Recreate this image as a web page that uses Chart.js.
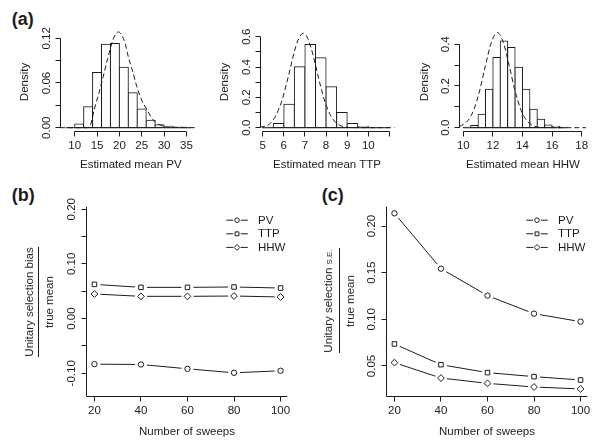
<!DOCTYPE html>
<html>
<head>
<meta charset="UTF-8">
<title>Unitary selection</title>
<script src="https://cdn.jsdelivr.net/npm/chart.js"></script>
<style>
body {
    margin: 0;
    width: 600px;
    height: 444px;
    position: relative;
    overflow: hidden;
    background: #fff;
    color: #1c1c1c;
    font-family: "Liberation Sans", Arial, sans-serif;
}
canvas { position: absolute; }
.panel { position: absolute; font-size: 18px; line-height: 18px; font-weight: bold; }
.lbl { position: absolute; font-size: 11.5px; line-height: 14px; white-space: nowrap; transform: translateX(-50%); }
.vert {
    position: absolute;
    font-size: 11.5px;
    line-height: 14px;
    white-space: nowrap;
    text-align: center;
    transform: translate(-50%, -50%) rotate(-90deg);
}
.frac .bar { border-top: 1px solid #1c1c1c; height: 0; margin: 2px auto 0 auto; }
.frac .den { margin-top: 3px; }
.small { font-size: 8px; }
</style>
</head>
<body>

<div class="panel" style="left:11.7px;top:10.3px">(a)</div>
<div class="panel" style="left:11.7px;top:186px">(b)</div>
<div class="panel" style="left:321.7px;top:186px">(c)</div>

<canvas id="hPV" width="200" height="180" style="left:0;top:0"></canvas>
<canvas id="hTTP" width="200" height="180" style="left:200px;top:0"></canvas>
<canvas id="hHHW" width="200" height="180" style="left:400px;top:0"></canvas>
<canvas id="bias" width="300" height="264" style="left:0;top:180px"></canvas>
<canvas id="se" width="300" height="264" style="left:300px;top:180px"></canvas>

<div class="vert" style="left:23.6px;top:81.7px">Density</div>
<div class="vert" style="left:223.6px;top:81.7px">Density</div>
<div class="vert" style="left:423.6px;top:81.7px">Density</div>
<div class="lbl" style="left:130.8px;top:157px">Estimated mean PV</div>
<div class="lbl" style="left:327px;top:157px">Estimated mean TTP</div>
<div class="lbl" style="left:523px;top:157px">Estimated mean HHW</div>

<div class="vert frac" style="left:39px;top:301.7px;width:116px">
    <div>Unitary selection bias</div>
    <div class="bar" style="width:110px"></div>
    <div class="den">true mean</div>
</div>
<div class="vert frac" style="left:338.7px;top:301px;width:110px">
    <div>Unitary selection <span class="small">S.E.</span></div>
    <div class="bar" style="width:105px"></div>
    <div class="den">true mean</div>
</div>
<div class="lbl" style="left:187px;top:424px">Number of sweeps</div>
<div class="lbl" style="left:487px;top:424px">Number of sweeps</div>

<script>
// histograms (densities)
const pvBreaks = [8, 10, 12, 14, 16, 18, 20, 22, 24, 26, 28, 30, 32, 34, 36];
const pvDensity = [0, 0.005, 0.028, 0.074, 0.112, 0.113, 0.081, 0.047, 0.025, 0.010, 0.004, 0.002, 0.001, 0.0005];
const pvCurveX = [6.7, 12.6, 13.4, 14.35, 15.4, 16.4, 17.3, 18.3, 19.05, 19.8, 20.5, 21.3, 22.0, 23.0, 23.9, 25.0, 26.2, 27.3, 28.4, 29.9, 32, 37.3];
const pvCurveY = [0, 0, 0.002, 0.024, 0.046, 0.069, 0.091, 0.113, 0.1245, 0.1285, 0.1245, 0.113, 0.095, 0.075, 0.055, 0.037, 0.024, 0.0125, 0.006, 0.002, 0.0005, 0];
const pvXTicks = [10, 15, 20, 25, 30, 35];
const pvXLabels = ['10', '15', '20', '25', '30', '35'];
const pvYTicks = [0, 0.03, 0.06, 0.09, 0.12];
const pvYLabels = ['0.00', '', '0.06', '', '0.12'];

const ttpBreaks = [5, 5.5, 6, 6.5, 7, 7.5, 8, 8.5, 9, 9.5, 10, 10.5, 11];
const ttpDensity = [0.003, 0.028, 0.154, 0.402, 0.549, 0.462, 0.27, 0.101, 0.027, 0.008, 0.002, 0];
const ttpCurveX = [4.87, 5.0, 5.3, 5.6, 5.9, 6.2, 6.5, 6.7, 6.92, 7.1, 7.3, 7.5, 7.7, 7.9, 8.1, 8.3, 8.5, 8.8, 9.2, 11.25];
const ttpCurveY = [0.004, 0.007, 0.022, 0.074, 0.175, 0.33, 0.502, 0.586, 0.622, 0.598, 0.522, 0.413, 0.296, 0.193, 0.114, 0.061, 0.029, 0.008, 0.001, 0];
const ttpXTicks = [5, 6, 7, 8, 9, 10, 11];
const ttpXLabels = ['5', '6', '7', '8', '9', '10', ''];
const ttpYTicks = [0, 0.1, 0.2, 0.3, 0.4, 0.5, 0.6];
const ttpYLabels = ['0.0', '', '0.2', '', '0.4', '', '0.6'];

const hhwBreaks = [10, 10.5, 11, 11.5, 12, 12.5, 13, 13.5, 14, 14.5, 15, 15.5, 16, 16.5, 17];
const hhwDensity = [0.002, 0.011, 0.064, 0.184, 0.336, 0.416, 0.384, 0.29, 0.184, 0.088, 0.04, 0.013, 0.006, 0.002];
const hhwCurveX = [9.73, 10.3, 10.7, 11.1, 11.5, 11.9, 12.3, 12.7, 13.1, 13.5, 13.9, 14.3, 14.7, 15.1, 15.5, 18.3];
const hhwCurveY = [0.005, 0.033, 0.084, 0.176, 0.299, 0.41, 0.456, 0.41, 0.299, 0.176, 0.084, 0.033, 0.01, 0.0026, 0.0005, 0];
const hhwXTicks = [10, 12, 14, 16, 18];
const hhwXLabels = ['10', '12', '14', '16', '18'];
const hhwYTicks = [0, 0.1, 0.2, 0.3, 0.4];
const hhwYLabels = ['0.0', '', '0.2', '', '0.4'];

// sweeps panels
const sweeps = [20, 40, 60, 80, 100];
const sweepLabels = ['20', '40', '60', '80', '100'];
const traits = ['PV', 'TTP', 'HHW'];
const biasPV = [-0.0833, -0.0839, -0.0918, -0.0991, -0.0954];
const biasTTP = [0.0626, 0.0571, 0.0571, 0.0578, 0.0559];
const biasHHW = [0.045, 0.0407, 0.0407, 0.0413, 0.0395];
const biasYTicks = [-0.10, -0.05, 0, 0.05, 0.10, 0.15, 0.20];
const biasYLabels = ['-0.10', '', '0.00', '', '0.10', '', '0.20'];
const sePV = [0.2136, 0.1543, 0.1254, 0.1061, 0.0975];
const seTTP = [0.0736, 0.0514, 0.0429, 0.0386, 0.035];
const seHHW = [0.0536, 0.0371, 0.0314, 0.0275, 0.0254];
const seYTicks = [0.05, 0.10, 0.15, 0.20];
const seYLabels = ['0.05', '0.10', '0.15', '0.20'];

const INK = '#1c1c1c';
const FONT = '11.5px "Liberation Sans", Arial, sans-serif';
const marks = { PV: 'circle', TTP: 'rect', HHW: 'rectRot' };
const markSize = { circle: 2.7, rect: 3.2, rectRot: 3.4 };

function snap(v) { return Math.round(v - 0.5) + 0.5; }

function drawMark(ctx, style, x, y, r) {
    ctx.beginPath();
    if (style === 'circle') {
        ctx.arc(x, y, r, 0, Math.PI * 2);
    } else if (style === 'rect') {
        const h = r * Math.SQRT1_2;
        ctx.rect(x - h, y - h, 2 * h, 2 * h);
    } else {
        ctx.moveTo(x, y - r); ctx.lineTo(x + r, y); ctx.lineTo(x, y + r); ctx.lineTo(x - r, y); ctx.closePath();
    }
    ctx.fillStyle = '#fff';
    ctx.fill();
    ctx.stroke();
}

// R style axes: lines, outward ticks, rotated y labels, plus the legend box-less key
const rAxes = {
    id: 'rAxes',
    afterDraw(chart, args, o) {
        if (!o.xTicks) return;
        const ctx = chart.ctx, a = chart.chartArea;
        const xs = chart.scales.x, ys = chart.scales.y;
        const xp = o.xTicks.map(v => xs.getPixelForValue(v));
        const yp = o.yTicks.map(v => ys.getPixelForValue(v));
        const L = snap(a.left), B = snap(a.bottom);
        ctx.save();
        ctx.strokeStyle = INK;
        ctx.fillStyle = INK;
        ctx.lineWidth = 1;
        ctx.beginPath();
        if (o.box) {
            ctx.moveTo(L, a.top); ctx.lineTo(L, B); ctx.lineTo(a.right, B);
        } else {
            ctx.moveTo(L, yp[0]); ctx.lineTo(L, yp[yp.length - 1]);
            ctx.moveTo(xp[0], B); ctx.lineTo(xp[xp.length - 1], B);
        }
        xp.forEach(p => { ctx.moveTo(snap(p), B); ctx.lineTo(snap(p), B + 5); });
        yp.forEach(p => { ctx.moveTo(L, snap(p)); ctx.lineTo(L - 5, snap(p)); });
        ctx.stroke();

        ctx.font = FONT;
        ctx.textAlign = 'center';
        ctx.textBaseline = 'middle';
        o.xLabels.forEach((t, i) => { if (t) ctx.fillText(t, xp[i], a.bottom + 14.5); });
        ctx.textBaseline = 'alphabetic';
        o.yLabels.forEach((t, i) => {
            if (!t) return;
            ctx.save();
            ctx.translate(a.left - o.gap, yp[i]);
            ctx.rotate(-Math.PI / 2);
            ctx.fillText(t, 0, 0);
            ctx.restore();
        });

        if (o.legend) {
            ctx.textAlign = 'left';
            ctx.textBaseline = 'middle';
            o.legend.forEach((name, i) => {
                const y = a.top + 13.5 + i * 13.6;
                const x0 = a.right - 61, x1 = a.right - 39.5, xm = a.right - 50.3;
                ctx.fillStyle = INK;
                ctx.beginPath();
                ctx.moveTo(x0, y); ctx.lineTo(xm - 3.8, y);
                ctx.moveTo(xm + 3.8, y); ctx.lineTo(x1, y);
                ctx.stroke();
                drawMark(ctx, marks[name], xm, y, markSize[marks[name]] * 0.85);
                ctx.fillStyle = INK;
                ctx.fillText(name, a.right - 29.3, y + 0.5);
            });
        }
        ctx.restore();
    }
};
Chart.register(rAxes);

function baseOptions(pad, xr, yr, axes) {
    return {
        responsive: false,
        animation: false,
        events: [],
        layout: { padding: pad },
        plugins: { legend: { display: false }, tooltip: { enabled: false }, rAxes: axes },
        scales: {
            x: { type: 'linear', min: xr[0], max: xr[1], display: false, offset: false },
            y: { type: 'linear', min: yr[0], max: yr[1], display: false }
        }
    };
}

function histogram(id, breaks, dens, cx, cy, pad, xr, yr, axes) {
    const bins = dens.map((d, i) => ({ x: (breaks[i] + breaks[i + 1]) / 2, y: d }));
    new Chart(document.getElementById(id), {
        type: 'bar',
        data: {
            datasets: [{
                data: bins,
                backgroundColor: '#fff',
                borderColor: INK,
                borderWidth: 1,
                borderSkipped: false,
                inflateAmount: 0.5,
                barPercentage: 1,
                categoryPercentage: 1,
                order: 2
            }, {
                type: 'line',
                data: cx.map((x, i) => ({ x: x, y: cy[i] })),
                borderColor: INK,
                borderWidth: 1,
                borderDash: [5, 3],
                cubicInterpolationMode: 'monotone',
                pointRadius: 0,
                order: 1
            }, {
                type: 'line',
                data: [{ x: breaks[0], y: 0 }, { x: breaks[breaks.length - 1], y: 0 }],
                borderColor: INK,
                borderWidth: 1,
                pointRadius: 0,
                order: 0
            }]
        },
        options: baseOptions(pad, xr, yr, axes)
    });
}

function seriesSets(vals, name) {
    const pts = sweeps.map((s, i) => ({ x: s, y: vals[i] }));
    const style = marks[name];
    return [
        { type: 'line', data: pts, borderColor: INK, borderWidth: 1, pointRadius: 0, order: 3 },
        { type: 'line', data: pts, showLine: false, pointRadius: 6, pointBackgroundColor: '#fff',
          pointBorderColor: '#fff', pointBorderWidth: 0, order: 2 },
        { type: 'line', data: pts, showLine: false, pointStyle: style, pointRadius: markSize[style],
          pointBackgroundColor: '#fff', pointBorderColor: INK, pointBorderWidth: 1, order: 1 }
    ];
}

function sweepChart(id, pv, ttp, hhw, yr, yTicks, yLabels) {
    new Chart(document.getElementById(id), {
        type: 'line',
        data: { datasets: [].concat(seriesSets(pv, 'PV'), seriesSets(ttp, 'TTP'), seriesSets(hhw, 'HHW')) },
        options: baseOptions({ left: 86.3, right: 12.7, top: 26.7, bottom: 47.3 }, [16.5, 102.9], yr, {
            xTicks: sweeps, xLabels: sweepLabels, yTicks: yTicks, yLabels: yLabels,
            box: true, gap: 11.5, legend: traits
        })
    });
}

histogram('hPV', pvBreaks, pvDensity, pvCurveX, pvCurveY,
    { left: 60, right: 3.3, top: 28, bottom: 48.3 }, [6.71, 37.3], [-0.00537, 0.1338],
    { xTicks: pvXTicks, xLabels: pvXLabels, yTicks: pvYTicks, yLabels: pvYLabels, gap: 10 });
histogram('hTTP', ttpBreaks, ttpDensity, ttpCurveX, ttpCurveY,
    { left: 60, right: 5.3, top: 28, bottom: 48.3 }, [4.872, 11.25], [-0.0264, 0.6574],
    { xTicks: ttpXTicks, xLabels: ttpXLabels, yTicks: ttpYTicks, yLabels: ttpYLabels, gap: 10 });
histogram('hHHW', hhwBreaks, hhwDensity, hhwCurveX, hhwCurveY,
    { left: 59.3, right: 13.9, top: 28, bottom: 48.3 }, [9.73, 18.3], [-0.0192, 0.478],
    { xTicks: hhwXTicks, xLabels: hhwXLabels, yTicks: hhwYTicks, yLabels: hhwYLabels, gap: 10 });

sweepChart('bias', biasPV, biasTTP, biasHHW, [-0.1428, 0.2046], biasYTicks, biasYLabels);
sweepChart('se', sePV, seTTP, seHHW, [0.0171, 0.2207], seYTicks, seYLabels);
</script>
</body>
</html>
